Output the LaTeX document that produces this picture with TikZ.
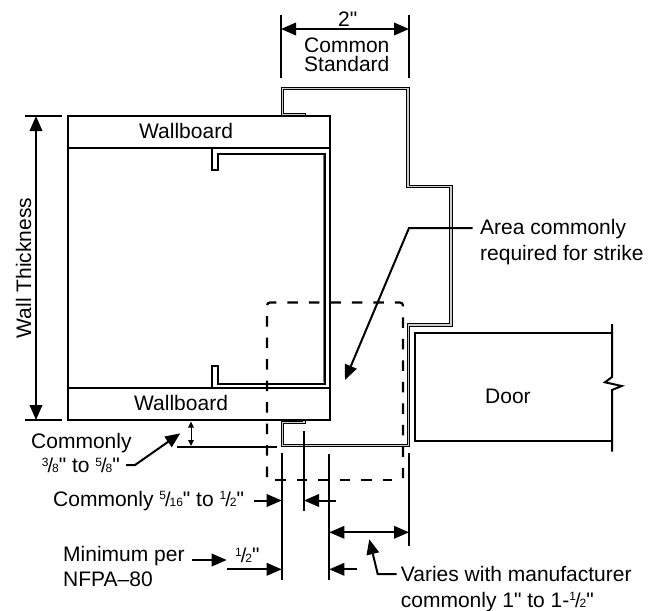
\documentclass[tikz,border=0pt]{standalone}
\usepackage{fontspec}
\setmainfont{Liberation Sans}[Ligatures=TeXOff]
\usepackage{tikz}
\usetikzlibrary{arrows.meta, positioning, calc}
\newcommand{\frc}[2]{\raisebox{6.5pt}{\fontsize{12}{12}\selectfont #1}\kern-1pt{\fontsize{20}{20}\selectfont /}\kern-1pt{\fontsize{12}{12}\selectfont #2}}
\tikzset{
    wallline/.style={line width=2pt},
    sheet/.style={line width=3.2pt, line join=miter, postaction={draw=black!20, line width=1.1pt}},
    studline/.style={line width=2pt, line join=miter},
    dimline/.style={line width=2pt},
    dashline/.style={line width=2.2pt, dash pattern=on 10.5pt off 11pt, rounded corners=3pt},
    ptr/.style={-{Triangle[length=15pt, width=12.5pt]}, line width=2pt},
    bothptr/.style={{Triangle[length=15pt, width=12.5pt]}-{Triangle[length=15pt, width=12.5pt]}, line width=2pt},
    smallptr/.style={{Triangle[length=6pt, width=5.5pt]}-{Triangle[length=6pt, width=5.5pt]}, line width=1pt},
    lbl/.style={font=\fontsize{21}{20}\selectfont, inner sep=0pt, anchor=base west}
}
\begin{document}
\begin{tikzpicture}[x=1pt, y=-1pt]
    \useasboundingbox (0,0) rectangle (657,611);
    % frame
    \draw[sheet] (304,116) -- (304,114.5) -- (282.5,114.5) -- (282.5,88.5) -- (408,88.5) -- (408,186.5) -- (451,186.5)
        -- (451,325) -- (408.5,325) -- (408.5,445.5) -- (282.5,445.5) -- (282.5,422.3) -- (304,422.3) -- (304,420);
    % wall
    \coordinate (wallTL) at (68,116);
    \coordinate (wallBR) at (329.5,420);
    \draw[wallline] (wallTL) rectangle (wallBR);
    \draw[wallline] (68,148) -- (329.5,148);
    \draw[wallline] (68,388) -- (329.5,388);
    \node[lbl] (boardtop) at (139,138.3) {Wallboard};
    \node[lbl] (boardbot) at (134,410.7) {Wallboard};
    % stud
    \draw[line width=0.8pt, black!55] (323,155) -- (323,382);
    \draw[studline] (212,148) -- (212,170) -- (217.5,170) -- (217.5,153.5) -- (325,153.5) -- (325,383.5)
        -- (217.5,383.5) -- (217.5,366) -- (212,366) -- (212,388);
    % door
    \coordinate (doorTR) at (612,332.5);
    \coordinate (doorTL) at (414.5,332.5);
    \coordinate (doorBL) at (414.5,441);
    \coordinate (doorBR) at (612,441);
    \draw[wallline] (doorTR) -- (doorTL) -- (doorBL) -- (doorBR);
    \draw[wallline] (612,324) -- (612,377) -- (605,382.3) -- (621.7,386) -- (612,390) -- (612,451.7);
    \node[lbl] (door) at (485,403) {Door};
    % strike area
    \draw[dashline] (267,477) -- (267,302.5) -- (403,302.5) -- (403,478);
    \draw[dashline] (275,480) -- (392,480);
    % two inch dimension
    \coordinate (twoL) at (281,15);
    \coordinate (twoR) at (409,15);
    \draw[dimline] (twoL) -- (281,78);
    \draw[dimline] (twoR) -- (409,78);
    \draw[bothptr] (281,29) -- (409,29);
    \node[lbl] (two) at (338,26) {2"};
    \node[lbl] (common) at (304,52) {Common};
    \node[lbl] (standard) at (304,71.7) {Standard};
    % wall thickness
    \draw[dimline] (25,116) -- (62,116);
    \draw[dimline] (25,420) -- (62,420);
    \draw[bothptr] (36,116) -- (36,420);
    \node[lbl, anchor=base, rotate=90] (thick) at (31,268) {Wall Thickness};
    % area label
    \node[lbl] (area) at (480,234) {Area commonly};
    \node[lbl] (required) at (480,260) {required for strike};
    \draw[ptr] (472.7,228) -- (409,228) -- (345,380);
    % commonly 3/8 to 5/8
    \draw[smallptr] (191,421.5) -- (191,446);
    \draw[dimline] (177,446.7) -- (277,446.7);
    \node[lbl] (com38) at (31,448.3) {Commonly};
    \node[lbl] (frac38) at (41.7,472.7) {\frc{3}{8}" to \frc{5}{8}"};
    \draw[ptr] (126,465) -- (135,465) -- (180.3,433.3);
    % 5/16 to 1/2
    \node[lbl] (com516) at (53,506) {Commonly \frc{5}{16}" to \frc{1}{2}"};
    \coordinate (colA) at (281.7,452.7);
    \coordinate (colB) at (304,431);
    \coordinate (colC) at (329.3,454);
    \coordinate (colD) at (409,452.7);
    \draw[dimline] (colA) -- (281.7,580);
    \draw[dimline] (colB) -- (304,511);
    \draw[dimline] (colC) -- (329.3,580);
    \draw[dimline] (colD) -- (409,545.7);
    \draw[ptr] (254,500.5) -- (281.7,500.5);
    \draw[ptr] (335.7,500.5) -- (304,500.5);
    % half inch
    \node[lbl] (min) at (63,561) {Minimum per};
    \node[lbl] (nfpa) at (63,586.7) {NFPA–80};
    \node[lbl] (half) at (235,562.7) {\frc{1}{2}"};
    \draw[ptr] (191.7,560) -- (226.7,560);
    \draw[ptr] (227.3,569.3) -- (281.7,569.3);
    % varies
    \draw[bothptr] (329.3,532.3) -- (409,532.3);
    \draw[ptr] (356.7,569.3) -- (329.3,569.3);
    \draw[ptr] (396.7,574) -- (377.7,574) -- (369.3,539.3);
    \node[lbl] (varies) at (400.7,581.7) {Varies with manufacturer};
    \node[lbl] (commonly) at (400.7,607.3) {commonly 1" to 1-\frc{1}{2}"};
\end{tikzpicture}
\end{document}
